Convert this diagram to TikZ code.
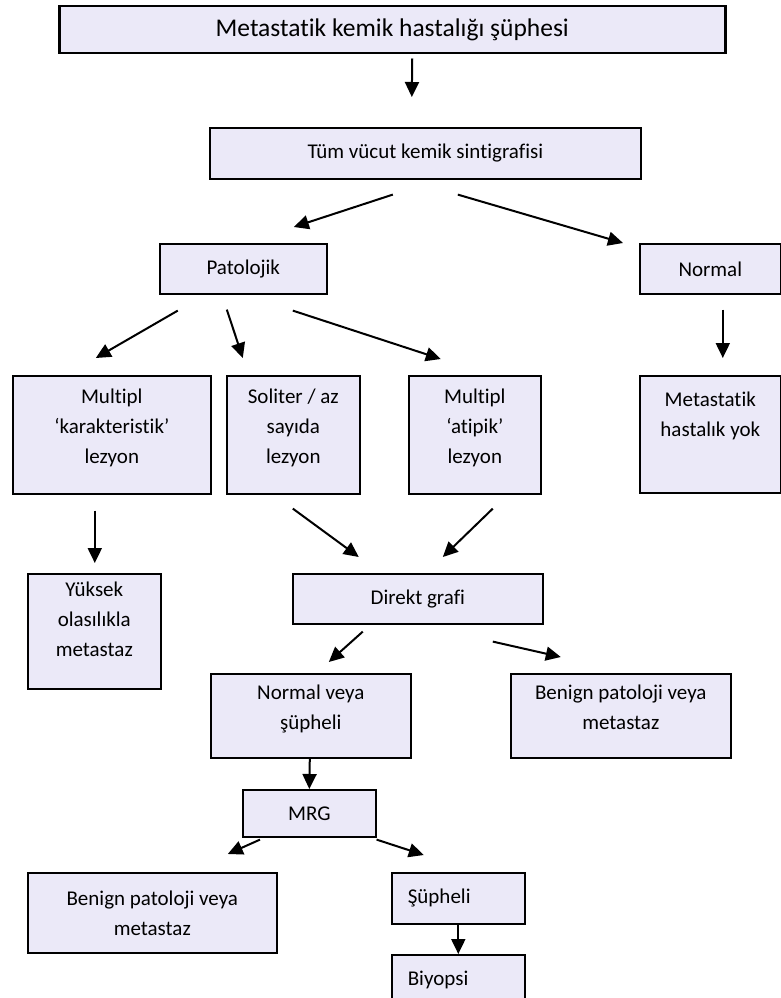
\documentclass[tikz,border=0pt]{standalone}
\usepackage{fontspec}
\setmainfont{Carlito}[Ligatures=NoCommon]
\usetikzlibrary{arrows.meta}
\definecolor{boxfill}{RGB}{235,233,248}

\begin{document}
\begin{tikzpicture}[
    x=1pt, y=-1pt,
    box/.style={
        rectangle,
        draw,
        line width=1.6pt,
        fill=boxfill,
        align=center,
        anchor=north west,
        inner sep=0pt,
        font=\fontsize{21}{30}\selectfont
    },
    leftbox/.style={box, text width=101pt, align=left, inner xsep=16pt},
    arrow/.style={-{Triangle[length=15pt,width=14pt]}, line width=2pt}
]
    \useasboundingbox (0,0) rectangle (781,998);

    \node[box, line width=2.5pt, minimum width=666pt, minimum height=47pt, font=\fontsize{25.5}{28}\selectfont] (suspect) at (58,5) {Metastatik kemik hastalığı şüphesi};
    \node[box, minimum width=431pt, minimum height=51pt] (scan) at (209,127) {Tüm vücut kemik sintigrafisi};
    \node[box, minimum width=167pt, minimum height=50pt] (patho) at (159,243) {Patolojik};
    \node[box, minimum width=141pt, minimum height=50pt] (normal) at (639,243) {Normal};
    \node[box, minimum width=198pt, minimum height=118pt] (charac) at (12,375) {Multipl\\ ‘karakteristik’\\ lezyon\\[-12pt]\mbox{}};
    \node[box, minimum width=133pt, minimum height=118pt] (solitary) at (226,375) {Soliter / az\\ sayıda\\ lezyon\\[-12pt]\mbox{}};
    \node[box, minimum width=132pt, minimum height=118pt] (atypic) at (408,375) {Multipl\\ ‘atipik’\\ lezyon\\[-12pt]\mbox{}};
    \node[box, minimum width=141pt, minimum height=117pt] (nomet) at (639,375) {Metastatik\\ hastalık yok\\[11pt]\mbox{}};
    \node[box, minimum width=133pt, minimum height=115pt] (likely) at (27,573) {Yüksek\\ olasılıkla\\ metastaz\\[-6pt]\mbox{}};
    \node[box, minimum width=250pt, minimum height=50pt] (xray) at (292,573) {Direkt grafi};
    \node[box, minimum width=200pt, minimum height=84pt] (normsusp) at (210,673) {Normal veya\\ şüpheli\\[-12pt]\mbox{}};
    \node[box, minimum width=220pt, minimum height=84pt] (benignA) at (510,673) {Benign patoloji veya\\ metastaz\\[-12pt]\mbox{}};
    \node[box, minimum width=133pt, minimum height=47pt] (mri) at (242,789) {MRG};
    \node[box, minimum width=249pt, minimum height=80pt] (benignB) at (27,872) {Benign patoloji veya\\ metastaz};
    \node[leftbox, minimum height=51pt] (susp) at (391,872) {Şüpheli};
    \node[leftbox, minimum height=51pt] (biopsy) at (391,954) {Biyopsi};

    \draw[arrow] ([xshift=20pt,yshift=-4pt]suspect.south) -- ([xshift=-13.5pt,yshift=30pt]scan.north);
    \draw[arrow] ([xshift=-32.5pt,yshift=-15pt]scan.south) -- ([xshift=50.5pt,yshift=16pt]patho.north);
    \draw[arrow] ([xshift=32.5pt,yshift=-15pt]scan.south) -- ([xshift=-16pt,yshift=0pt]normal.north west);
    \draw[arrow] ([xshift=-65.5pt,yshift=-16pt]patho.south) -- ([xshift=-16pt,yshift=17pt]charac.north);
    \draw[arrow] ([xshift=-16.5pt,yshift=-15pt]patho.south) -- ([xshift=-50.5pt,yshift=17pt]solitary.north);
    \draw[arrow] ([xshift=49.5pt,yshift=-16pt]patho.south) -- ([xshift=-34pt,yshift=16pt]atypic.north);
    \draw[arrow] ([xshift=12.5pt,yshift=-15pt]normal.south) -- ([xshift=12.5pt,yshift=17pt]nomet.north);
    \draw[arrow] ([xshift=-17pt,yshift=-16pt]charac.south) -- ([xshift=0.5pt,yshift=10pt]likely.north);
    \draw[arrow] ([xshift=-0.5pt,yshift=-14pt]solitary.south) -- ([xshift=-59pt,yshift=16pt]xray.north);
    \draw[arrow] ([xshift=18pt,yshift=-14pt]atypic.south) -- ([xshift=25pt,yshift=16pt]xray.north);
    \draw[arrow] ([xshift=-55pt,yshift=-7pt]xray.south) -- ([xshift=18pt,yshift=11pt]normsusp.north);
    \draw[arrow] ([xshift=75pt,yshift=-17pt]xray.south) -- ([xshift=-60pt,yshift=16pt]benignA.north);
    \draw[arrow] ([xshift=-1pt]normsusp.south) -- (mri.north);
    \draw[arrow] ([xshift=18pt,yshift=-2pt]mri.south west) -- ([xshift=75.5pt,yshift=18pt]benignB.north);
    \draw[arrow] ([yshift=-2pt]mri.south east) -- ([xshift=-34.5pt,yshift=17pt]susp.north);
    \draw[arrow] (susp.south) -- (biopsy.north);
\end{tikzpicture}
\end{document}
